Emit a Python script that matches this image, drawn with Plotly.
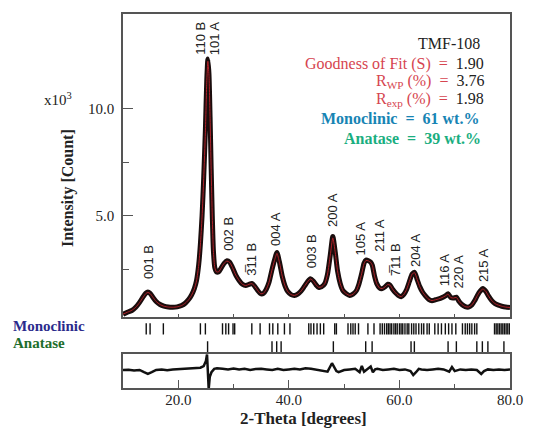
import plotly.graph_objects as go

# ---------------- data ----------------
two_theta = [10.0, 10.8, 11.6, 12.3, 13.0, 13.6, 14.1, 14.5, 14.9, 15.4, 16.0, 16.7, 17.4, 18.2, 19.0,
             19.8, 20.6, 21.3, 21.9, 22.4, 22.9, 23.3, 23.7, 24.0, 24.3, 24.6, 24.9, 25.15, 25.35, 25.55,
             25.75, 25.95, 26.15, 26.35, 26.6, 26.9, 27.3, 27.8, 28.3, 28.8, 29.3, 29.8, 30.4, 31.0, 31.6,
             32.2, 32.8, 33.3, 33.8, 34.4, 34.9, 35.4, 35.9, 36.4, 36.9, 37.4, 37.85, 38.3, 38.8, 39.3,
             39.8, 40.4, 41.0, 41.6, 42.2, 42.8, 43.4, 43.9, 44.4, 44.9, 45.4, 45.9, 46.5, 47.0, 47.5,
             47.95, 48.4, 48.8, 49.3, 49.8, 50.4, 51.0, 51.6, 52.2, 52.7, 53.2, 53.6, 53.95, 54.4, 54.8,
             55.1, 55.5, 55.9, 56.4, 56.9, 57.4, 57.9, 58.3, 58.8, 59.3, 59.8, 60.3, 60.8, 61.3, 61.8,
             62.3, 62.75, 63.2, 63.7, 64.2, 64.7, 65.3, 65.9, 66.5, 67.1, 67.7, 68.3, 68.8, 69.3, 69.8,
             70.3, 70.8, 71.3, 71.9, 72.5, 73.1, 73.6, 74.1, 74.6, 75.1, 75.6, 76.1, 76.7, 77.3, 77.9,
             78.5, 79.2, 80.0]
observed = [0.42, 0.52, 0.60, 0.75, 0.98, 1.22, 1.40, 1.46, 1.40, 1.22, 1.02, 0.88, 0.80, 0.76, 0.75,
            0.77, 0.83, 0.95, 1.12, 1.32, 1.62, 2.00, 2.75, 3.70, 5.00, 6.80, 9.00, 11.30, 12.30, 11.60,
            9.60, 7.20, 5.00, 3.40, 2.60, 2.40, 2.40, 2.60, 2.80, 2.92, 2.85, 2.60, 2.25, 2.00, 1.82,
            1.76, 1.82, 1.86, 1.74, 1.52, 1.38, 1.40, 1.58, 1.90, 2.45, 2.95, 3.30, 2.85, 2.20, 1.75,
            1.48, 1.34, 1.30, 1.36, 1.50, 1.72, 1.95, 2.08, 1.98, 1.80, 1.68, 1.70, 1.85, 2.30, 3.20,
            4.05, 3.30, 2.45, 1.85, 1.52, 1.38, 1.30, 1.36, 1.52, 1.85, 2.35, 2.80, 2.95, 2.92, 2.85,
            2.70, 2.20, 1.85, 1.65, 1.62, 1.70, 1.82, 1.78, 1.58, 1.42, 1.30, 1.24, 1.35, 1.58, 1.95,
            2.30, 2.38, 2.05, 1.70, 1.45, 1.28, 1.12, 1.06, 1.10, 1.14, 1.20, 1.28, 1.38, 1.20, 1.18,
            1.22, 1.02, 0.88, 0.78, 0.76, 0.86, 1.05, 1.30, 1.50, 1.62, 1.50, 1.28, 1.06, 0.92, 0.85,
            0.80, 0.76, 0.74]
calculated = [0.43, 0.52, 0.61, 0.75, 0.97, 1.20, 1.38, 1.44, 1.39, 1.22, 1.02, 0.88, 0.80, 0.76, 0.75,
              0.77, 0.83, 0.95, 1.11, 1.31, 1.60, 1.98, 2.72, 3.65, 4.95, 6.75, 8.90, 11.20, 12.20, 11.55,
              9.55, 7.15, 4.95, 3.38, 2.60, 2.40, 2.40, 2.60, 2.80, 2.90, 2.84, 2.60, 2.25, 2.00, 1.82,
              1.76, 1.82, 1.85, 1.74, 1.52, 1.38, 1.40, 1.58, 1.90, 2.44, 2.93, 3.26, 2.84, 2.20, 1.75,
              1.48, 1.34, 1.30, 1.36, 1.50, 1.72, 1.94, 2.07, 1.98, 1.80, 1.68, 1.70, 1.85, 2.30, 3.18,
              3.98, 3.28, 2.45, 1.85, 1.52, 1.38, 1.30, 1.36, 1.52, 1.85, 2.34, 2.78, 2.93, 2.91, 2.84,
              2.70, 2.20, 1.85, 1.65, 1.62, 1.70, 1.81, 1.78, 1.58, 1.42, 1.30, 1.24, 1.35, 1.58, 1.95,
              2.30, 2.36, 2.05, 1.70, 1.45, 1.28, 1.12, 1.06, 1.10, 1.14, 1.20, 1.28, 1.36, 1.20, 1.18,
              1.21, 1.02, 0.88, 0.78, 0.76, 0.86, 1.05, 1.30, 1.50, 1.60, 1.50, 1.28, 1.06, 0.92, 0.85,
              0.80, 0.76, 0.74]

resid_theta = [10, 11, 12, 13, 13.8, 14.5, 15.2, 16, 17, 18, 19, 20, 21, 22, 23, 24, 24.6, 25.0, 25.2,
               25.35, 25.5, 25.7, 26.0, 26.5, 27, 28, 29, 30, 31, 32, 33, 34, 35, 36, 37, 38, 39, 40,
               41, 42, 43, 44, 45, 46, 47, 47.8, 48.2, 48.6, 49, 50, 51, 52, 52.8, 53.2, 53.6, 54,
               54.8, 55.2, 55.6, 56, 57, 58, 59, 60, 61, 62, 62.5, 63, 63.5, 64, 65, 66, 67, 68, 69,
               69.5, 70, 71, 72, 73, 74, 74.8, 75.3, 76, 77, 78, 79, 80]
residual = [0.0, 0.02, -0.05, 0.0, -0.2, -0.35, -0.2, 0.0, 0.05, -0.02, 0.05, 0.08, 0.06, 0.12, 0.15,
            0.2, 0.35, 0.8, 1.4, 0.2, -1.7, -0.6, -0.2, 0.1, 0.15, 0.1, 0.05, 0.12, 0.05, 0.1, 0.0, 0.08,
            0.1, 0.05, 0.0, 0.1, 0.0, 0.05, 0.1, 0.05, 0.15, 0.1, 0.0, -0.1, -0.15, 0.6, 0.3, -0.1, -0.2,
            0.0, 0.05, 0.1, -0.2, 0.35, -0.15, 0.0, 0.3, -0.2, 0.05, 0.1, 0.0, 0.05, 0.1, 0.0, 0.05,
            -0.1, -0.45, -0.2, 0.1, 0.05, 0.0, 0.05, 0.1, 0.05, -0.15, 0.25, -0.1, 0.05, 0.0, 0.05, 0.0,
            -0.35, -0.1, 0.05, 0.0, 0.05, 0.0, 0.05]

monoclinic_pos = [14.2, 14.9, 17.3, 24.0, 24.9, 28.0, 28.6, 29.1, 29.9, 30.2, 33.3, 34.8, 36.5, 37.1,
                  38.0, 39.2, 40.2, 43.6, 44.0, 44.5, 45.1, 45.7, 46.3, 48.3, 48.6, 50.7, 51.2, 51.6,
                  52.0, 52.6, 54.3, 55.4, 56.5, 56.9, 57.3, 57.7, 58.0, 58.3, 58.6, 59.0, 59.3, 59.6,
                  60.0, 60.3, 60.6, 61.0, 61.4, 61.7, 62.2, 62.6, 63.0, 63.5, 64.0, 64.4, 65.0, 65.4,
                  66.4, 67.0, 67.6, 68.3, 68.9, 69.5, 70.2, 71.4, 71.9, 72.3, 72.7, 73.1, 73.6, 74.0,
                  77.2, 77.5, 77.8, 78.1, 78.4, 78.7, 79.0, 79.3, 79.6, 79.9]
anatase_pos = [25.3, 36.95, 37.8, 38.6, 48.05, 53.9, 55.06, 62.1, 62.7, 68.8, 70.3, 74.0, 75.0, 76.0, 78.9]

peak_labels = ["001 B", "110 B", "101 A", "002 B", "3\u030511 B", "004 A", "003 B", "200 A",
               "105 A", "211 A", "7\u030511 B", "204 A", "116 A", "220 A", "215 A"]
peak_label_theta = [14.6, 24.0, 26.7, 29.2, 33.1, 37.7, 44.1, 48.0, 53.0, 56.4, 59.2, 62.9, 68.1, 70.6, 75.2]
peak_label_base = [1.99, 12.4, 12.4, 3.29, 2.13, 3.52, 2.45, 4.40, 3.06, 3.24, 2.08, 2.55, 1.62, 1.53, 1.85]

y_tick_vals = [5, 10]
y_tick_text = ["5.0", "10.0"]
x_tick_vals = [20, 40, 60, 80]
x_tick_text = ["20.0", "40.0", "60.0", "80.0"]

# ---------------- figure ----------------
SERIF = "Liberation Serif, Times New Roman, serif"
SANS = "Liberation Sans, Arial, sans-serif"
RED = "#d64550"

fig = go.Figure()

fig.add_trace(go.Scatter(x=two_theta, y=observed, mode="lines", line=dict(color="#1a0d0d", width=5, shape="spline", smoothing=0.6),
                         xaxis="x", yaxis="y", showlegend=False, hoverinfo="skip"))
fig.add_trace(go.Scatter(x=two_theta, y=calculated, mode="lines", line=dict(color="#b0222a", width=1.0, shape="spline", smoothing=0.6),
                         xaxis="x", yaxis="y", showlegend=False, hoverinfo="skip"))

fig.add_trace(go.Scatter(x=monoclinic_pos, y=[0.69] * len(monoclinic_pos), mode="markers",
                         marker=dict(symbol="line-ns", size=8, line=dict(color="#111", width=1.4)),
                         xaxis="x", yaxis="y2", showlegend=False, hoverinfo="skip"))
fig.add_trace(go.Scatter(x=anatase_pos, y=[0.20] * len(anatase_pos), mode="markers",
                         marker=dict(symbol="line-ns", size=8, line=dict(color="#111", width=1.4)),
                         xaxis="x", yaxis="y2", showlegend=False, hoverinfo="skip"))

fig.add_trace(go.Scatter(x=resid_theta, y=residual, mode="lines", line=dict(color="#111", width=2.5),
                         xaxis="x2", yaxis="y3", showlegend=False, hoverinfo="skip"))

axis_line = dict(showline=True, mirror=True, linecolor="#555", linewidth=1.5, showgrid=False, zeroline=False)

fig.update_layout(
    width=535, height=430,
    margin=dict(l=123, r=18, t=12, b=42),
    paper_bgcolor="white", plot_bgcolor="white",
    hovermode=False,
    xaxis=dict(domain=[0, 1], anchor="y", range=[10, 80], tickmode="array", tickvals=[20, 30, 40, 50, 60, 70],
               ticks="inside", ticklen=4, tickwidth=1.2, tickcolor="#555", showticklabels=False, **axis_line),
    yaxis=dict(domain=[0.1888, 1], anchor="x", range=[0.28, 14.4], tickmode="array", tickvals=y_tick_vals,
               ticktext=y_tick_text, ticks="inside", ticklen=10, tickwidth=1.2, tickcolor="#555",
               minor=dict(tickmode="array", tickvals=[2.5, 7.5], ticks="inside", ticklen=6, tickcolor="#555", tickwidth=1.2),
               tickfont=dict(family=SERIF, size=15, color="#222"), ticklabelstandoff=4, **axis_line),
    yaxis2=dict(domain=[0.0904, 0.1888], anchor="x", range=[0, 1], visible=False),
    xaxis2=dict(domain=[0, 1], anchor="y3", range=[10, 80], tickmode="array", tickvals=x_tick_vals,
                ticktext=x_tick_text, ticks="inside", ticklen=8, tickwidth=1.2, tickcolor="#555",
                minor=dict(tickmode="array", tickvals=[30, 50, 70], ticks="inside", ticklen=4, tickcolor="#555", tickwidth=1.2),
                tickfont=dict(family=SERIF, size=15, color="#222"), ticklabelstandoff=-3, **axis_line),
    yaxis3=dict(domain=[0, 0.0904], anchor="x2", range=[-1.6, 1.4], showticklabels=False, ticks="", **axis_line),
)

ann = []
for txt, xt, yb in zip(peak_labels, peak_label_theta, peak_label_base):
    ann.append(dict(x=xt, y=yb, xref="x", yref="y", text=txt, textangle=-90, showarrow=False,
                    xanchor="center", yanchor="bottom", font=dict(family=SANS, size=13, color="#222")))

def paper_x(px):
    return (px - 123) / 394.0

def paper_y(py):
    return (388 - py) / 376.0

ann += [
    dict(x=paper_x(488), y=paper_y(42), xref="paper", yref="paper", xanchor="right", yanchor="middle",
         text="TMF-108", showarrow=False, font=dict(family=SERIF, size=16, color="#222")),
    dict(x=paper_x(493), y=paper_y(62), xref="paper", yref="paper", xanchor="right", yanchor="middle",
         text=f"<span style='color:{RED}'>Goodness of Fit (S)  =</span>  1.90", showarrow=False,
         font=dict(family=SERIF, size=16, color="#222")),
    dict(x=paper_x(493), y=paper_y(80), xref="paper", yref="paper", xanchor="right", yanchor="middle",
         text=f"<span style='color:{RED}'>R<sub>WP</sub> (%)  =</span>  3.76", showarrow=False,
         font=dict(family=SERIF, size=16, color="#222")),
    dict(x=paper_x(493), y=paper_y(98), xref="paper", yref="paper", xanchor="right", yanchor="middle",
         text=f"<span style='color:{RED}'>R<sub>exp</sub> (%)  =</span>  1.98", showarrow=False,
         font=dict(family=SERIF, size=16, color="#222")),
    dict(x=paper_x(487), y=paper_y(117), xref="paper", yref="paper", xanchor="right", yanchor="middle",
         text="<b>Monoclinic  =  61 wt.%</b>", showarrow=False,
         font=dict(family=SERIF, size=16, color="#1784b4")),
    dict(x=paper_x(490), y=paper_y(137), xref="paper", yref="paper", xanchor="right", yanchor="middle",
         text="<b>Anatase  =  39 wt.%</b>", showarrow=False,
         font=dict(family=SERIF, size=16, color="#1aae80")),
    dict(x=paper_x(57), y=paper_y(97), xref="paper", yref="paper", xanchor="center", yanchor="middle",
         text="x10<sup>3</sup>", showarrow=False, font=dict(family=SERIF, size=15, color="#222")),
    dict(x=paper_x(67), y=paper_y(187), xref="paper", yref="paper", xanchor="center", yanchor="middle",
         text="<b>Intensity [Count]</b>", textangle=-90, showarrow=False,
         font=dict(family=SERIF, size=16, color="#222")),
    dict(x=paper_x(307), y=paper_y(419), xref="paper", yref="paper", xanchor="center", yanchor="middle",
         text="<b>2-Theta [degrees]</b>", showarrow=False, font=dict(family=SERIF, size=17, color="#222")),
    dict(x=paper_x(9), y=paper_y(326), xref="paper", yref="paper", xanchor="left", yanchor="middle",
         text="<b>Monoclinic</b>", showarrow=False, font=dict(family=SERIF, size=15, color="#2b2b8c")),
    dict(x=paper_x(9), y=paper_y(343), xref="paper", yref="paper", xanchor="left", yanchor="middle",
         text="<b>Anatase</b>", showarrow=False, font=dict(family=SERIF, size=15, color="#1d6e2c")),
]
fig.update_layout(annotations=ann)

# remove the default 8px page margin so the figure sits at the window's top-left corner
fig.write_html("out.html", config={"displayModeBar": False},
               post_script="document.body.style.margin='0px';document.body.style.overflow='hidden';")
